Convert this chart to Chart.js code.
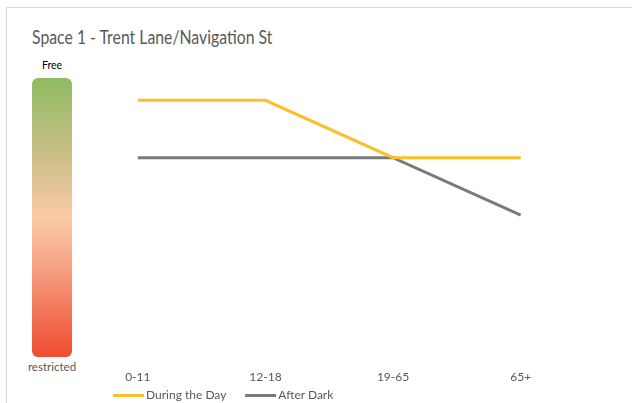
<!DOCTYPE html>
<html>
<head>
<meta charset="utf-8">
<script src="https://cdn.jsdelivr.net/npm/chart.js@4"></script>
<style>
  body { margin: 0; background: #fff; font-family: Lato, "Open Sans", sans-serif; color: #595959; }
  #wrap { position: relative; width: 632px; height: 403px; overflow: hidden; }
  #frame { position: absolute; left: 6px; top: 7px; width: 700px; height: 500px;
           border-top: 1px solid #d9d9d9; border-left: 1px solid #d9d9d9; }
  #title { position: absolute; left: 32px; top: 25px; font-size: 19.5px; white-space: nowrap;
           transform: scaleX(0.81); transform-origin: left top; }
  #scale { position: absolute; left: 32px; top: 78px; width: 40px; height: 279px; border-radius: 6px;
           background: linear-gradient(to bottom, #8fbc62 0%, #cfc08b 30%, #fbcba5 50%, #f6a083 68%, #ef4b2f 100%); }
  .lab { position: absolute; width: 80px; text-align: center; left: 12px; }
  #legend { position: absolute; left: 113px; top: 387px; font-size: 12px; white-space: nowrap; }
  #legend span.item { display: inline-block; margin-right: 19px; }
  #legend span.sw { display: inline-block; width: 31px; height: 3px; vertical-align: middle; margin-right: 2px; }
  canvas { position: absolute; left: 0; top: 0; }
</style>
</head>
<body>
<div id="wrap">
  <div id="frame"></div>
  <div id="title">Space 1 - Trent Lane/Navigation St</div>
  <div class="lab" style="top:59px; font-size:10.5px; color:#000;">Free</div>
  <div id="scale"></div>
  <div class="lab" style="top:360px; font-size:11.5px;">restricted</div>
  <canvas id="myChart" width="632" height="403"></canvas>
  <div id="legend"></div>
</div>
<script>
//categories on the x axis
var ageGroups = ["0-11", "12-18", "19-65", "65+"];

//how free each group feels (higher = freer)
var duringDay = [4, 4, 3, 3];
var afterDark = [3, 3, 3, 2];

var seriesNames = ["During the Day", "After Dark"];
var seriesColors = ["#fbbf2a", "#7a7a7a"];

var ctx = document.getElementById("myChart");

var myChart = new Chart(ctx, {
  type: 'line',
  data: {
    labels: ageGroups,
    datasets: [
      { label: seriesNames[0], data: duringDay, borderColor: seriesColors[0], backgroundColor: seriesColors[0] },
      { label: seriesNames[1], data: afterDark, borderColor: seriesColors[1], backgroundColor: seriesColors[1] }
    ]
  },
  options: {
    responsive: false,
    animation: false,
    layout: { padding: { left: 74, right: 47.5, top: 71.6, bottom: 8 } },
    elements: {
      line: { borderWidth: 3, tension: 0 },
      point: { radius: 0 }
    },
    plugins: {
      legend: { display: false },
      title: { display: false },
      tooltip: { enabled: false }
    },
    scales: {
      x: {
        offset: true,
        grid: { display: false, drawTicks: false },
        border: { display: false },
        ticks: { color: "#595959", padding: 11, font: { family: "Lato", size: 12 } }
      },
      y: {
        display: false,
        min: -0.5,
        max: 4.5
      }
    }
  }
});

//build the legend from the datasets
var legend = document.getElementById("legend");
myChart.data.datasets.forEach(function(ds){
  var item = document.createElement("span");
  item.className = "item";
  var sw = document.createElement("span");
  sw.className = "sw";
  sw.style.backgroundColor = ds.borderColor;
  item.appendChild(sw);
  item.appendChild(document.createTextNode(ds.label));
  legend.appendChild(item);
});
</script>
</body>
</html>
